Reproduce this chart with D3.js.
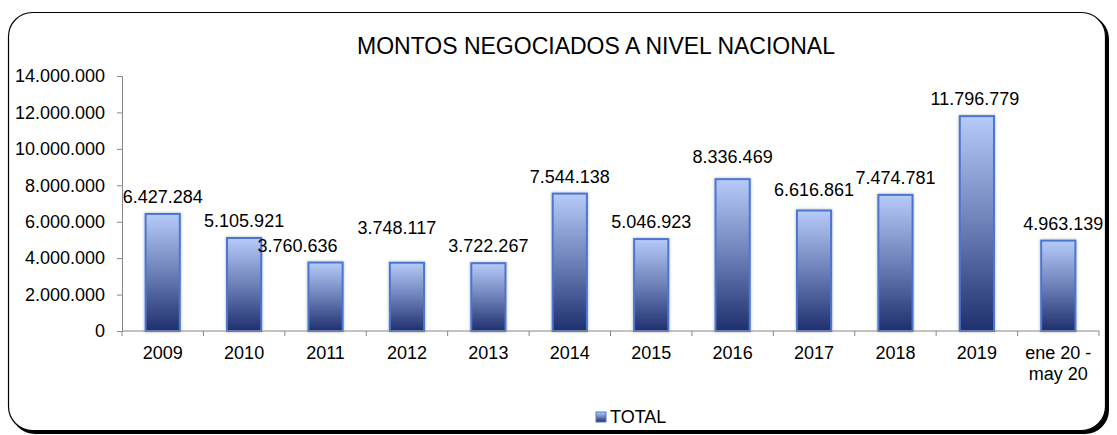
<!DOCTYPE html>
<html>
<head>
<meta charset="utf-8">
<script src="https://d3js.org/d3.v7.min.js"></script>
<style>
  body { margin: 0; background: #fff; }
  svg { display: block; font-family: "Liberation Sans", Arial, sans-serif; }
</style>
</head>
<body>
<div id="chart-area"></div>
<script>
// data
var categories = ["2009", "2010", "2011", "2012", "2013", "2014", "2015", "2016", "2017", "2018", "2019", "ene 20 - may 20"];
var totals = [6427284, 5105921, 3760636, 3748117, 3722267, 7544138, 5046923, 8336469, 6616861, 7474781, 11796779, 4963139];
var yTicks = [0, 2000000, 4000000, 6000000, 8000000, 10000000, 12000000, 14000000];
var seriesName = "TOTAL";
var chartTitle = "MONTOS NEGOCIADOS A NIVEL NACIONAL";

// labels were moved by hand in the original, nudges in px [dx, dy]
var labelNudge = [[0,0],[0,0],[-28,0],[-10,-18],[0,0],[0,0],[0,0],[0,-5],[0,-3],[0,0],[-2,0],[5,0]];

var width = 1117, height = 435;
var margin = {left: 122, right: 18, top: 76, bottom: 104};

var fmt = function(v){
	return d3.format(",")(v).replace(/,/g, ".");
};

var svg = d3.select("#chart-area").append("svg")
	.attr("width", width)
	.attr("height", height);

var defs = svg.append("defs");
var grad = defs.append("linearGradient")
	.attr("id", "barGrad")
	.attr("x1", 0).attr("y1", 0).attr("x2", 0).attr("y2", 1);
grad.append("stop").attr("offset", "0%").attr("stop-color", "#b7cbf9");
grad.append("stop").attr("offset", "50%").attr("stop-color", "#6d80b8");
grad.append("stop").attr("offset", "100%").attr("stop-color", "#1f2f6e");

var shadow = defs.append("filter").attr("id", "barShadow")
	.attr("x", "-30%").attr("y", "-5%").attr("width", "160%").attr("height", "110%");
shadow.append("feDropShadow")
	.attr("dx", 0).attr("dy", 0).attr("stdDeviation", 1.5)
	.attr("flood-color", "#000").attr("flood-opacity", 0.3);

// frame with a dark shadow on the right/bottom
svg.append("rect")
	.attr("x", 11).attr("y", 15)
	.attr("width", width - 19).attr("height", 419)
	.attr("rx", 24).attr("ry", 24)
	.style("fill", "#000");
svg.append("rect")
	.attr("x", 8.5).attr("y", 12.5)
	.attr("width", width - 20).attr("height", 418)
	.attr("rx", 24).attr("ry", 24)
	.style("fill", "#fff")
	.style("stroke", "#000")
	.style("stroke-width", 1.2);

svg.append("text")
	.attr("x", 596).attr("y", 54)
	.attr("text-anchor", "middle")
	.style("font-size", "23px")
	.style("fill", "#000")
	.text(chartTitle);

var x = d3.scaleBand()
	.domain(categories)
	.range([margin.left, width - margin.right])
	.paddingInner(0.58)
	.paddingOuter(0.29);

var y = d3.scaleLinear()
	.domain([0, 14000000])
	.range([height - margin.bottom, margin.top]);

// y axis
var yAxis = svg.append("g")
	.attr("transform", "translate(" + margin.left + ",0)")
	.call(d3.axisLeft(y).tickValues(yTicks).tickSize(5).tickPadding(12).tickFormat(fmt));
yAxis.select(".domain").attr("stroke", "#868686");
yAxis.selectAll(".tick line").attr("stroke", "#868686");
yAxis.selectAll("text").style("font-size", "18px").style("fill", "#000").style("font-family", "Liberation Sans, Arial, sans-serif");

// bars
svg.selectAll("rect.bar")
	.data(totals)
	.enter()
	.append("rect")
		.attr("class", "bar")
		.attr("x", function(d, i){ return x(categories[i]); })
		.attr("y", function(d){ return y(d); })
		.attr("width", x.bandwidth())
		.attr("height", function(d){ return y(0) - y(d); })
		.style("fill", "url(#barGrad)")
		.style("stroke", "#4a76d0")
		.style("stroke-width", 2)
		.attr("filter", "url(#barShadow)");

// x axis with ticks at category boundaries
var x0 = y(0);
var xg = svg.append("g");
xg.append("line")
	.attr("x1", margin.left).attr("x2", width - margin.right)
	.attr("y1", x0).attr("y2", x0)
	.attr("stroke", "#868686");
var step = x.step();
var bounds = d3.range(categories.length + 1).map(function(i){ return margin.left + i * step; });
xg.selectAll("line.xt")
	.data(bounds)
	.enter()
	.append("line")
		.attr("class", "xt")
		.attr("x1", function(d){ return d; }).attr("x2", function(d){ return d; })
		.attr("y1", x0).attr("y2", x0 + 5)
		.attr("stroke", "#868686");

xg.selectAll("text.xl")
	.data(categories)
	.enter()
	.append("text")
		.attr("class", "xl")
		.attr("x", function(d){ return x(d) + x.bandwidth() / 2; })
		.attr("y", x0 + 28)
		.attr("text-anchor", "middle")
		.style("font-size", "18px")
		.style("fill", "#000")
		.each(function(d){
			var t = d3.select(this);
			if (d.indexOf(" - ") > 0) {
				var parts = d.split(" - ");
				t.append("tspan").attr("x", t.attr("x")).text(parts[0] + " -");
				t.append("tspan").attr("x", t.attr("x")).attr("dy", 21).text(parts[1]);
			} else {
				t.text(d);
			}
		});

// value labels
svg.selectAll("text.val")
	.data(totals)
	.enter()
	.append("text")
		.attr("class", "val")
		.attr("x", function(d, i){ return x(categories[i]) + x.bandwidth() / 2 + labelNudge[i][0]; })
		.attr("y", function(d, i){ return y(d) - 11 + labelNudge[i][1]; })
		.attr("text-anchor", "middle")
		.style("font-size", "18px")
		.style("fill", "#000")
		.text(fmt);

// legend
var leg = svg.append("g").attr("transform", "translate(596,412)");
leg.append("rect")
	.attr("width", 10).attr("height", 10)
	.style("fill", "url(#barGrad)")
	.style("stroke", "#4a76d0")
	.style("stroke-width", 1);
leg.append("text")
	.attr("x", 14).attr("y", 11)
	.style("font-size", "18px")
	.style("fill", "#000")
	.text(seriesName);
</script>
</body>
</html>
